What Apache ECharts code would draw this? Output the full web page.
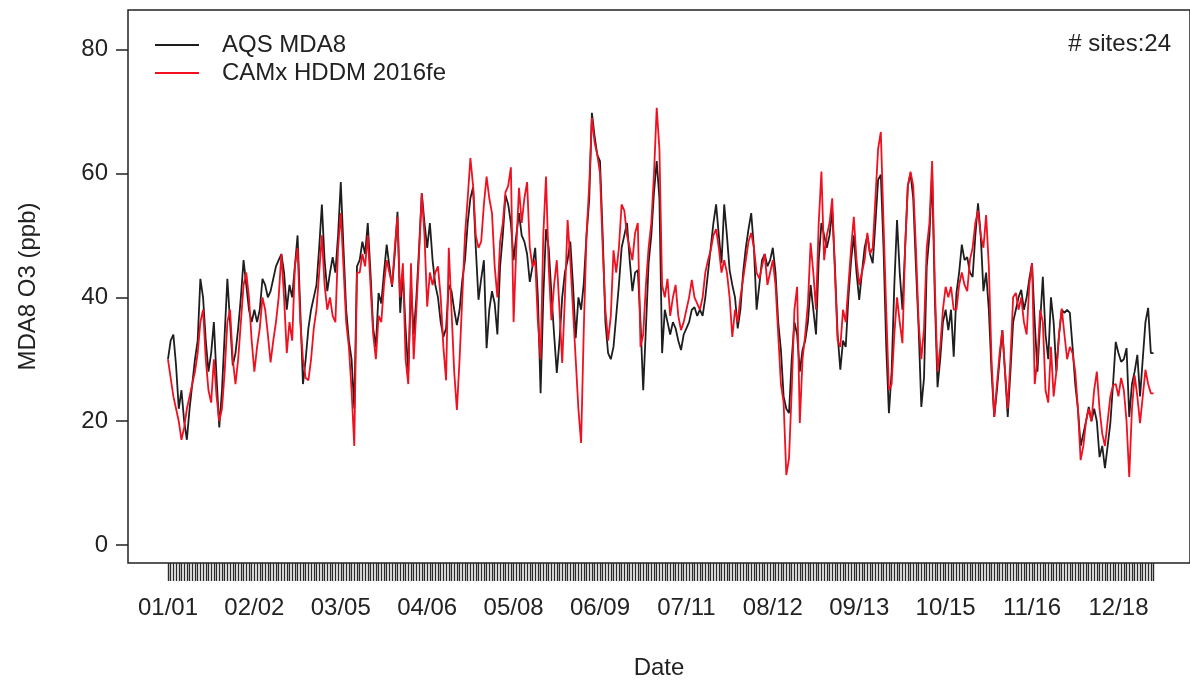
<!DOCTYPE html>
<html><head><meta charset="utf-8">
<script src="https://cdn.jsdelivr.net/npm/echarts@6/dist/echarts.min.js"></script>
<style>html,body{margin:0;padding:0;background:#fff}#c{width:1190px;height:685px}</style>
</head><body><div id="c"></div>
<script>
const aqsMDA8 = [
30,33,34,29,22,25,20,17,22,26,
30,33,43,40,33,28,31,36,27,19,
25,34,43,36,29,31,35,40,46,42,
38,36,38,36,38,43,42,40,41,43,
45,46,47,44,38,42,40,45,50,38,
26,30,35,38,40,42,48,55,46,41,
44,46.5,44,50,58.6,48,38,33,30,22,
45,46,49,47,52,44,35,32,40.7,39,
44,48.5,45,41.7,47,53.8,37.5,44,35,28,
42,34,40,48,56.8,52,48,52,46,42,
40,36,33.6,35,42,41,38,35.5,38,42.8,
46,52,56,57.8,48,39.6,43,46,31.8,38,
41,39,34,45,50,56.5,55,52,46,50,
53.6,50,49,47,42.5,45,48,40,24.5,40,
51,48,40.7,34,27.8,33,40,44,46,49,
42,33.4,40,38,42.3,50,55.7,69.8,66,63,
62,50,36,31,30,32,37,42,48,50,
52,46,41,44,44.4,36,25,35,45.5,50,
57,62,56,31,38,36,34,36,35,33,
31.5,34,35,36,38,38.4,37,38,37,40,
44,48,52,55,50,45.5,55,50,44.4,42,
40,35,38,44,48,51,53.6,48,38,42,
46,47,45,46,48,44,36,31.5,24,22,
21.3,30,36,34,28,31.5,33,36,42,38,
34,46,52,50,48,50,54,45,34,28.3,
33,32,40,46,50,44,39.6,44,48,50,
47,45.5,52,59,59.8,48,32,21.3,28,42,
52.5,44,38,48,58,60,56,45,35,22.3,
27,45,50,60,40,25.5,30,36,38,34.7,
38,30.4,40.7,44,48.5,46,46.5,44,43.3,50,
55.2,50,41,44,38,28,20.7,25,30,34.7,
28,20.7,28,36,38,40,41.2,38,40,43,
45.5,36,28,36,43.3,34,30,40,36,28,
34,38,37.5,38,37.5,32,26,22,16,18,
20,22.3,20,22,20,14.2,16,12.4,16,19.7,
26,32.8,31,29.6,30,31.8,20.7,26,28,30.7,
24,30,36,38.3,31,31
];
const camxHDDM = [
30,27,24,22,20,17,19,22,24,26,
28,31,36,38,30,25,23,30,24,20,
22,28,36,38,30,26,30,36,42,44,
40,33,28,32,35,40,38,34,29.5,33,
36,40,47,40,31,36,33,45,48,36,
30,27,26.6,30,35,38,44,50,42,38,
40,37,36,48,53.6,45,36,32,25,16,
44,44,47,45,50,42,34,30,37,36,
42,46,44,42,48,53,40,45.5,30,26,
45.5,30,38,47,56.8,50,38.5,44,42,44,
45,40,32,26.6,48,38,28,21.8,30,40,
50,56,62.5,58,50,48,49,55,59.5,56,
53.6,45,40,49,52,57,58,61,36,48,
57.7,52,56,58.6,48,45,46,36,30,50,
59.5,45,36.3,42,46,38,29.4,40,52.5,46,
38,30,22,16.5,35,50,58,69,65,63,
60,48,38,33,37,47.6,44,48,55,54,
50,48,46,50.4,52,32,34,42,48,52,
60,70.6,64,42,40,43,37,40,42,37,
34.7,36,38,40,42.8,40,39,38,40,44,
46,47.6,50,51,48,44,46,44,40,33.6,
38,36,40,43,46,49,50.4,48,44,43,
45,47,42,44,46,42,34,26,23,11.3,
14,25,38,41.7,19.7,30,34,39,48.8,44,
38,52,60.3,46,50,52,56,44,33,32,
38,36,42,48,53,46,42,44,46,50.4,
47,48,56,64,66.7,52,38,25,26,34,
40,36,32.6,48,58,60.3,58,48,36,30,
35,48,52,62,42,28,32,38,41.7,40,
41.7,38,38,42,44,42,41,46,48,52,
54,50,48,53.3,45,30,20.7,26,31,34.7,
28,22,30,40,40.7,38,40,36,34,42,
45.5,26,30,38,36,25,23,32,24,28,
34,38.2,34,30,32,31,28,22,13.7,16,
20,22,20,25,28,22,18,16,20,24,
25.8,26,24,27,25,20,11,22,27.4,24,
19.7,24,28.3,26,24.5,24.5
];
const xTickLabels = ['01/01','02/02','03/05','04/06','05/08','06/09','07/11','08/12','09/13','10/15','11/16','12/18'];
const xTickDays = [0,32,64,96,128,160,192,224,256,288,320,352];
const yTicks = [0,20,40,60,80];
const seriesNames = ['AQS MDA8','CAMx HDDM 2016fe'];
const sitesText = '# sites:24';

const allDays = aqsMDA8.map((_, i) => i);
const FONT = 'Liberation Sans, Arial, Helvetica, sans-serif';
const chart = echarts.init(document.getElementById('c'), null, {renderer: 'canvas'});
chart.setOption({
  animation: false,
  backgroundColor: '#fff',
  textStyle: {fontFamily: FONT},
  title: {
    text: sitesText, right: 14, top: 27,
    textStyle: {fontFamily: FONT, fontSize: 24, fontWeight: 'normal', color: '#222'}
  },
  legend: {
    orient: 'vertical', left: 150, top: 28, itemGap: 4,
    itemWidth: 44, itemHeight: 2, icon: 'rect',
    data: seriesNames,
    textStyle: {fontFamily: FONT, fontSize: 24, color: '#222', padding: [0, 0, 0, 18]},
    selectedMode: false
  },
  grid: {left: 128, right: 0, top: 10, bottom: 122, show: true, borderColor: '#222', borderWidth: 1.5, backgroundColor: 'transparent'},
  xAxis: {
    type: 'value', min: -14.8, max: 378.5,
    name: 'Date', nameLocation: 'middle', nameGap: 93,
    nameTextStyle: {fontFamily: FONT, fontSize: 24, color: '#222'},
    axisLine: {show: false, onZero: false},
    splitLine: {show: false},
    axisTick: {show: true, customValues: allDays, length: 18, inside: false, lineStyle: {color: '#2a2a2a', width: 1.4}},
    axisLabel: {
      customValues: xTickDays, margin: 33, fontSize: 24, color: '#222', fontFamily: FONT,
      formatter: v => xTickLabels[xTickDays.indexOf(v)]
    }
  },
  yAxis: {
    type: 'value', min: -2.9, max: 86.4,
    name: 'MDA8 O3 (ppb)', nameLocation: 'middle', nameGap: 88, nameRotate: 90,
    nameTextStyle: {fontFamily: FONT, fontSize: 24, color: '#222'},
    axisLine: {show: false, onZero: false},
    splitLine: {show: false},
    axisTick: {show: true, customValues: yTicks, length: 12, lineStyle: {color: '#222', width: 1.5}},
    axisLabel: {customValues: yTicks, margin: 20, fontSize: 24, color: '#222', fontFamily: FONT}
  },
  series: [
    {name: seriesNames[0], type: 'line', showSymbol: false, symbol: 'none',
     data: aqsMDA8.map((v, i) => [i, v]), lineStyle: {color: '#1e1e1e', width: 1.8},
     itemStyle: {color: '#1e1e1e'}, emphasis: {disabled: true}, z: 2},
    {name: seriesNames[1], type: 'line', showSymbol: false, symbol: 'none',
     data: camxHDDM.map((v, i) => [i, v]), lineStyle: {color: '#f01020', width: 1.8},
     itemStyle: {color: '#f01020'}, emphasis: {disabled: true}, z: 3}
  ]
});
</script>
</body></html>
